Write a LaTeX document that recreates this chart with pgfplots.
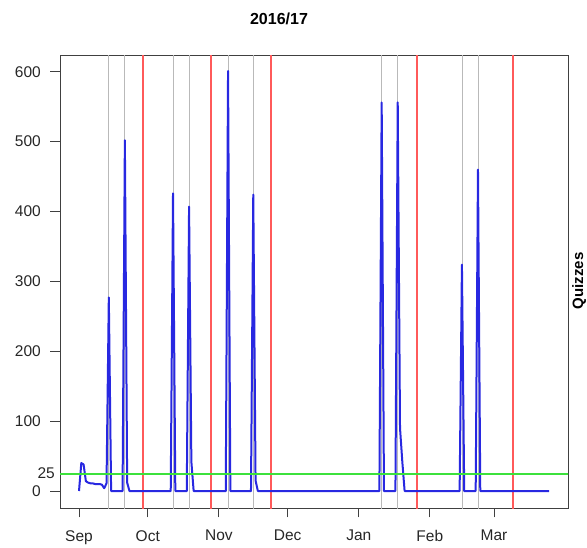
\documentclass[border=0pt]{standalone}
\usepackage{fontspec}
\setmainfont{Liberation Sans}
\usepackage{pgfplots}
\pgfplotsset{compat=1.18}
\definecolor{qblue}{RGB}{40,40,225}
\definecolor{qgray}{RGB}{185,185,185}
\definecolor{qred}{RGB}{255,90,90}
\definecolor{qgreen}{RGB}{60,225,60}
\begin{document}
\begin{tikzpicture}
\useasboundingbox (0,0) rectangle (587pt,547pt);
\begin{axis}[
  at={(60pt,39pt)}, anchor=south west,
  scale only axis, width=508pt, height=453pt,
  xmin=-8.29, xmax=213.26, ymin=-24.3, ymax=623.9,
  axis line style={black!75, line width=0.8pt},
  tick align=outside, major tick length=9.5pt,
  tick style={black!75, line width=0.8pt},
  xtick={0,30,61,91,122,153,181},
  xticklabels={Sep,Oct,Nov,Dec,Jan,Feb,Mar},
  xtick pos=bottom, ytick pos=left,
  ytick={0,100,200,300,400,500,600},
  yticklabels={0,100,200,300,400,500,600},
  ticklabel style={font=\fontsize{15.5}{18}\selectfont, text=black!85},
  xticklabel style={anchor=north, inner sep=0pt, yshift=-12.5pt},
  yticklabel style={anchor=east, inner sep=0pt, xshift=-9.5pt},
  extra y ticks={25}, extra y tick labels={25},
  extra y tick style={grid=none, major tick length=0pt, yticklabel style={xshift=4.5pt}},
  clip=true,
]
\pgfplotsinvokeforeach{13,20,41,48,65,76,132,139,167,174}{
  \addplot[draw=qgray, line width=0.8pt] coordinates {(#1,-100) (#1,1000)};
}
\pgfplotsinvokeforeach{27.8,57.7,83.7,147.3,189.3}{
  \addplot[draw=qred, line width=2pt] coordinates {(#1,-100) (#1,1000)};
}
\addplot[draw=qblue, line width=2pt, line join=round] coordinates {
(0,0) (1,40) (2,38) (3,14) (4,12) (5,11) (6,11) (7,10) (8,10) (9,10) (10,9) (11,4) (12,11)
(13,277) (14,0) (19,0) (20,502) (21,12) (22,0)
(40,0) (41,426) (42,0) (47,0) (48,407) (49,42) (50,0)
(64,0) (65,601) (66,0) (75,0) (76,424) (77,15) (78,0)
(131,0) (132,556) (133,0) (138,0) (139,556) (140,90) (141,42) (142,0)
(166,0) (167,324) (168,0) (173,0) (174,460) (175,0) (205,0)
};
\addplot[draw=qgreen, line width=2pt] coordinates {(-20,25) (300,25)};
\end{axis}
\node[font=\bfseries\fontsize{16}{19}\selectfont, anchor=base] at (279pt,522pt) {2016/17};
\node[font=\bfseries\fontsize{15}{18}\selectfont, rotate=90, anchor=base] at (583pt,266pt) {Quizzes};
\end{tikzpicture}
\end{document}
